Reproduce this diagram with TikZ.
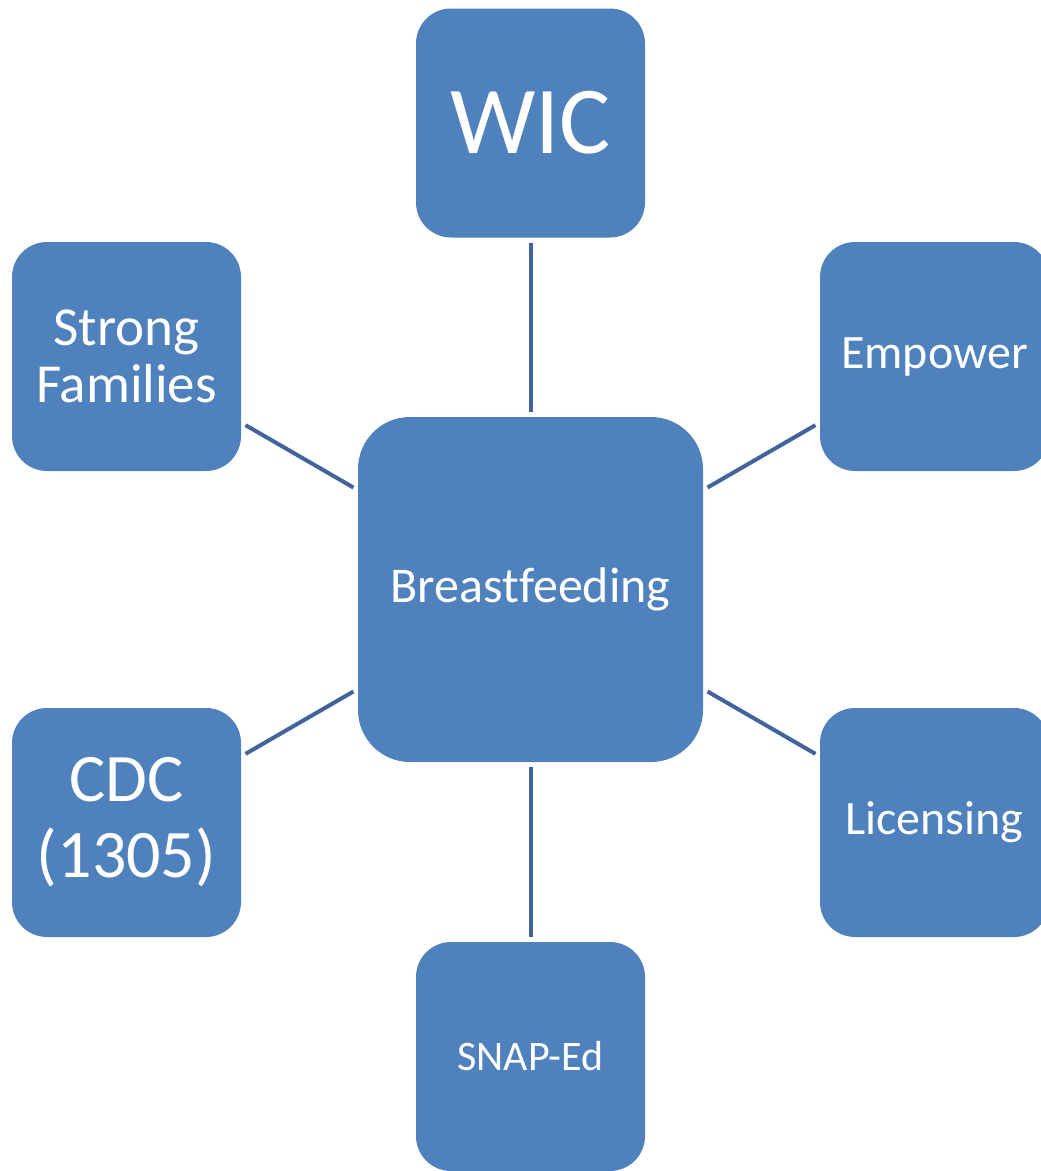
\documentclass[tikz,border=0pt]{standalone}
\usepackage{fontspec}
\setmainfont{Carlito}[Ligatures=CommonOff]
\definecolor{boxblue}{HTML}{4F81BD}
\definecolor{linkblue}{HTML}{40649B}
\begin{document}
\begin{tikzpicture}[x=1pt,y=-1pt,
  box/.style={rectangle, fill=boxblue, text=white, inner sep=0pt,
    minimum width=229pt, minimum height=229pt, rounded corners=35pt, align=center},
  hub/.style={rectangle, fill=boxblue, text=white, inner sep=0pt,
    minimum width=345pt, minimum height=345pt, rounded corners=52pt, align=center},
  link/.style={draw=linkblue, line width=4pt, shorten <=5pt, shorten >=5pt}]
\useasboundingbox (0,0) rectangle (1041,1171);
\clip (0,0) rectangle (1041,1171);
\node[hub, font=\fontsize{50}{55}\selectfont] (bf) at (530.5,589.5) {Breastfeeding};
\node[box, font=\fontsize{96}{100}\selectfont] (wic) at (530.5,123) {WIC};
\node[box, font=\fontsize{55}{57}\selectfont] (sf) at (126.5,356.5) {Strong\\Families};
\node[box, font=\fontsize{48}{52}\selectfont] (emp) at (934.5,356.5) {Empower};
\node[box, font=\fontsize{68}{76}\selectfont] (cdc) at (126.5,822.5) {CDC\\(1305)};
\node[box, font=\fontsize{48}{52}\selectfont] (lic) at (934.5,822.5) {Licensing};
\node[box, font=\fontsize{42}{46}\selectfont] (snap) at (530.5,1056.5) {SNAP-Ed};
\draw[link] (wic) -- (bf);
\draw[link] (sf) -- (bf);
\draw[link] (emp) -- (bf);
\draw[link] (cdc) -- (bf);
\draw[link] (lic) -- (bf);
\draw[link] (snap) -- (bf);
\end{tikzpicture}
\end{document}
